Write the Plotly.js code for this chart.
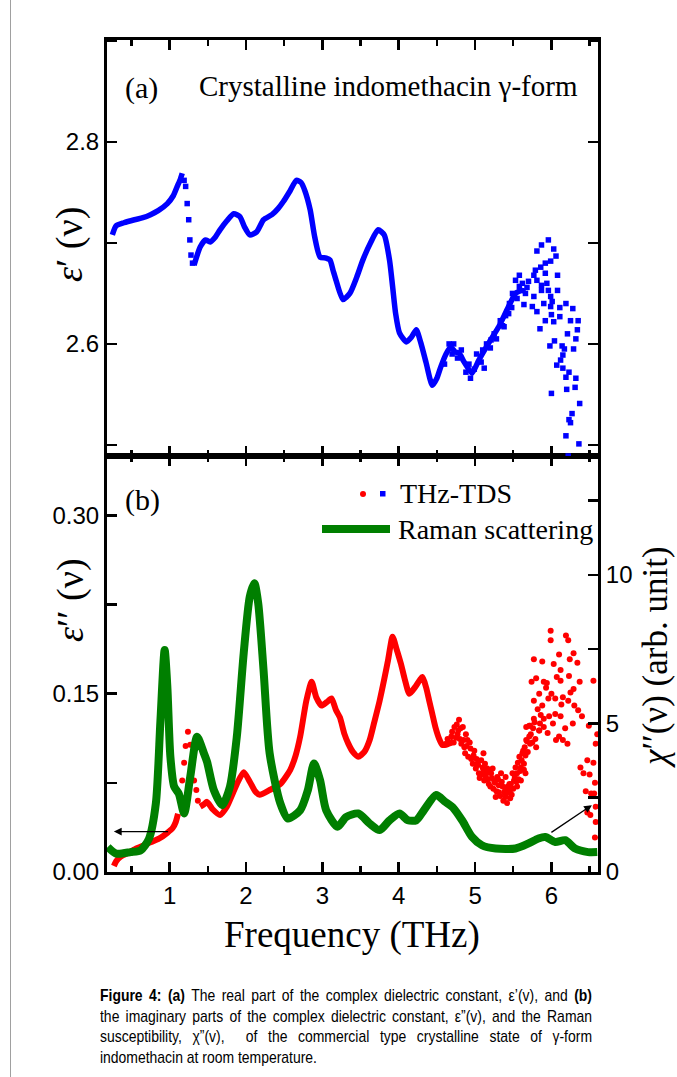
<!DOCTYPE html>
<html><head><meta charset="utf-8">
<script src="https://cdn.plot.ly/plotly-3.0.1.min.js"></script>
<style>
body{margin:0;background:#fff;width:677px;height:1077px;overflow:hidden;position:relative;font-family:"Liberation Sans",Arial,sans-serif;}
#chart{position:absolute;left:0;top:0;width:677px;height:1077px;}
#border{position:absolute;left:10px;top:0;width:1px;height:1077px;background:#a0a0a0;}
#caption{position:absolute;left:100px;top:986px;width:600px;font-size:17px;line-height:20.5px;color:#000;transform:scaleX(0.82);transform-origin:0 0;}
#caption div{text-align:justify;text-align-last:justify;white-space:nowrap;}
#caption div.last{text-align-last:left;}
</style></head>
<body>
<div id="border"></div>
<div id="chart"></div>
<div id="caption">
<div><b>Figure 4: (a)</b> The real part of the complex dielectric constant, ε’(v), and <b>(b)</b></div>
<div>the imaginary parts of the complex dielectric constant, ε”(v), and the Raman</div>
<div>susceptibility, χ”(v), &nbsp;of the commercial type crystalline state of γ-form</div>
<div class="last">indomethacin at room temperature.</div>
</div>
<script>
// ---------- (a) real part ε'(ν) ----------
const epsRealDenseX1 = [0.25,0.30,0.40,0.54,0.65,0.75,0.85,0.97,1.05,1.10,1.14,1.165];
const epsRealDenseY1 = [2.708,2.717,2.720,2.723,2.725,2.728,2.732,2.739,2.747,2.756,2.763,2.769];
const epsRealDotX = [1.19,1.21,1.23,1.25,1.265,1.28,1.30];
const epsRealDotY = [2.762,2.756,2.739,2.723,2.703,2.688,2.680];
const epsRealDenseX2 = [1.32,1.40,1.47,1.53,1.60,1.66,1.75,1.84,1.92,1.98,2.05,2.14,2.23,2.34,2.42,2.49,2.58,2.66,2.72,2.77,2.84,2.90,2.97,3.05,3.10,3.14,3.18,3.27,3.36,3.45,3.53,3.63,3.73,3.81,3.88,3.92,3.96,4.01,4.10,4.17,4.23,4.29,4.36,4.44,4.50,4.55,4.62,4.68,4.74,4.79,4.85,4.90,4.96,5.05,5.18,5.31,5.42,5.53,5.61,5.66];
const epsRealDenseY2 = [2.678,2.696,2.703,2.701,2.706,2.713,2.722,2.729,2.726,2.716,2.708,2.711,2.723,2.728,2.734,2.741,2.752,2.762,2.760,2.752,2.733,2.706,2.686,2.685,2.683,2.673,2.663,2.644,2.650,2.666,2.683,2.700,2.713,2.708,2.683,2.657,2.630,2.611,2.602,2.607,2.614,2.601,2.581,2.559,2.566,2.577,2.590,2.597,2.592,2.591,2.583,2.577,2.571,2.584,2.601,2.617,2.634,2.650,2.653,2.652];
const epsRealScatX = [5.96,5.87,5.81,6.03,6.06,5.99,5.92,5.86,5.79,5.58,5.53,5.77,5.92,6.08,5.81,5.87,5.94,5.58,5.87,5.96,6.08,5.49,5.66,5.77,5.64,5.75,5.81,5.90,5.99,6.01,5.99,6.11,6.19,6.28,6.00,6.11,5.92,6.03,6.25,6.35,5.85,6.34,6.21,6.32,6.04,5.98,6.14,6.29,6.17,6.15,6.12,6.07,6.15,6.23,6.19,6.32,6.31,6.20,6.00,6.37,6.27,6.23,6.25,6.19,6.36,6.22,5.21,5.12,5.44,5.38,
  4.60,4.66,4.70,4.72,4.77,4.82,4.88,4.92,4.94,4.99,5.02,5.08,5.10,5.15,5.20,5.25,5.28,5.33,5.36,5.40,5.45,5.48,5.55,5.62,5.68,5.70];
const epsRealScatY = [2.703,2.698,2.692,2.694,2.687,2.682,2.680,2.676,2.673,2.668,2.663,2.668,2.670,2.668,2.663,2.658,2.660,2.657,2.653,2.653,2.653,2.650,2.650,2.647,2.639,2.637,2.632,2.640,2.647,2.642,2.637,2.636,2.640,2.635,2.629,2.627,2.623,2.622,2.623,2.623,2.615,2.614,2.610,2.605,2.603,2.598,2.598,2.595,2.595,2.589,2.584,2.579,2.576,2.572,2.567,2.566,2.557,2.555,2.551,2.541,2.531,2.525,2.522,2.509,2.501,2.489,2.604,2.576,2.630,2.617,
  2.580,2.600,2.590,2.600,2.586,2.594,2.572,2.580,2.566,2.575,2.590,2.582,2.594,2.600,2.596,2.610,2.605,2.623,2.618,2.628,2.640,2.636,2.645,2.660,2.656,2.662];

// ---------- (b) imaginary part ε''(ν), THz-TDS ----------
const epsImagDenseX1 = [0.27,0.30,0.36,0.45,0.54,0.65,0.75,0.86,0.97,1.04,1.08,1.11];
const epsImagDenseY1 = [0.005,0.009,0.013,0.016,0.019,0.022,0.025,0.028,0.033,0.037,0.042,0.049];
const epsImagDotX = [1.14,1.165,1.19,1.21,1.24,1.27,1.30,1.32,1.35,1.37];
const epsImagDotY = [0.060,0.077,0.092,0.106,0.118,0.107,0.091,0.077,0.069,0.060];
const epsImagDenseX2 = [1.40,1.45,1.49,1.56,1.66,1.75,1.82,1.88,1.97,2.05,2.12,2.18,2.31,2.45,2.58,2.65,2.71,2.79,2.86,2.92,2.99,3.06,3.12,3.18,3.23,3.29,3.34,3.40,3.47,3.55,3.62,3.68,3.75,3.81,3.86,3.92,3.97,4.03,4.08,4.14,4.22,4.31,4.36,4.40,4.44,4.48,4.53,4.57,4.62,4.66,4.72];
const epsImagDenseY2 = [0.055,0.057,0.059,0.053,0.048,0.055,0.065,0.074,0.084,0.076,0.068,0.065,0.069,0.074,0.086,0.098,0.114,0.144,0.160,0.147,0.140,0.143,0.146,0.136,0.130,0.116,0.108,0.101,0.097,0.101,0.111,0.126,0.144,0.162,0.178,0.198,0.188,0.175,0.162,0.150,0.156,0.164,0.155,0.144,0.133,0.122,0.112,0.107,0.107,0.108,0.110];
const epsImagScatX = [4.79,4.73,4.84,4.77,4.88,4.69,4.62,4.90,4.94,4.86,4.98,5.11,5.03,5.10,5.16,5.05,5.21,5.14,5.25,5.29,5.18,5.31,5.27,5.36,5.40,5.38,5.46,5.45,5.51,5.55,5.49,5.60,5.53,5.64,5.58,5.62,5.66,5.60,5.65,5.72,5.80,5.67,5.73,5.67,5.71,5.77,5.90,5.86,5.84,5.90,4.64,5.11,5.23,5.31,5.34,5.40,5.46,5.43,5.55,
  5.99,5.99,6.19,6.22,5.77,5.88,6.10,6.24,6.29,6.34,5.74,5.80,5.90,5.94,6.07,6.12,6.29,6.37,6.55,5.84,5.77,5.96,6.05,6.15,6.22,6.30,5.72,5.84,5.97,6.05,6.12,6.35,6.40,6.49,6.06,6.10,6.15,6.21,6.60,6.58,6.47,6.55,6.38,6.42,6.50,6.57,6.45,6.56,6.52,6.47,6.58,6.58,6.57,6.51,5.93,6.00,5.88,6.13,6.25,6.28,6.18,5.95,6.02,6.03,6.23,6.12,
  4.70,4.72,4.75,4.76,4.78,4.80,4.81,4.82,4.85,4.87,4.89,4.91,4.93,4.95,4.97,4.99,5.01,5.02,5.04,5.06,5.08,5.09,5.12,5.13,5.15,5.17,5.19,5.20,5.22,5.24,5.26,5.28,5.30,5.33,5.35,5.37,5.39,5.41,5.42,5.44,5.47,5.48,5.50,5.52,5.54,5.56,5.57,5.59,5.61,5.63,5.64,5.66,5.68,5.69,5.71,5.75,5.76,5.78,5.79,5.82,5.85];
const epsImagScatY = [0.128,0.122,0.122,0.116,0.116,0.114,0.108,0.111,0.104,0.105,0.098,0.100,0.091,0.088,0.087,0.083,0.083,0.080,0.077,0.080,0.074,0.073,0.063,0.072,0.063,0.067,0.069,0.074,0.077,0.083,0.083,0.088,0.088,0.091,0.097,0.100,0.083,0.077,0.105,0.108,0.105,0.111,0.116,0.122,0.123,0.129,0.129,0.132,0.119,0.122,0.112,0.086,0.087,0.067,0.083,0.080,0.062,0.072,0.072,
  0.203,0.195,0.199,0.195,0.179,0.177,0.183,0.179,0.184,0.176,0.160,0.163,0.160,0.159,0.164,0.161,0.154,0.160,0.161,0.150,0.144,0.146,0.146,0.147,0.144,0.140,0.123,0.119,0.131,0.133,0.131,0.136,0.131,0.123,0.111,0.114,0.111,0.108,0.116,0.108,0.094,0.092,0.088,0.083,0.082,0.075,0.068,0.066,0.066,0.050,0.055,0.042,0.029,0.048,0.155,0.150,0.140,0.141,0.151,0.125,0.121,0.117,0.125,0.175,0.165,0.170,
  0.118,0.109,0.113,0.124,0.119,0.112,0.121,0.108,0.111,0.100,0.106,0.097,0.109,0.095,0.091,0.102,0.087,0.095,0.090,0.079,0.094,0.082,0.077,0.091,0.083,0.078,0.085,0.072,0.079,0.070,0.075,0.068,0.078,0.064,0.076,0.060,0.071,0.066,0.058,0.068,0.074,0.065,0.070,0.080,0.076,0.092,0.078,0.085,0.094,0.102,0.086,0.098,0.110,0.101,0.114,0.109,0.121,0.126,0.112,0.137,0.125];

// ---------- (b) Raman susceptibility χ''(ν) ----------
const ramanX = [0.19,0.30,0.49,0.62,0.73,0.82,0.88,0.935,0.97,1.01,1.06,1.12,1.19,1.27,1.36,1.45,1.49,1.58,1.69,1.79,1.88,1.97,2.05,2.11,2.16,2.23,2.31,2.45,2.55,2.71,2.81,2.89,2.97,3.05,3.20,3.31,3.47,3.62,3.75,3.88,4.01,4.12,4.23,4.33,4.49,4.61,4.72,4.83,4.96,5.09,5.27,5.53,5.70,5.83,5.92,6.05,6.18,6.31,6.48,6.60];
const ramanY = [0.84,0.62,0.67,0.73,1.12,2.31,5.11,7.47,6.24,3.88,2.87,2.64,1.97,3.20,4.55,3.99,3.71,2.75,2.25,2.87,4.55,7.36,9.27,9.72,9.05,6.80,3.99,2.31,1.80,2.08,2.75,3.65,3.09,2.08,1.52,1.85,1.97,1.63,1.41,1.74,1.97,1.74,1.74,2.08,2.59,2.36,2.14,1.74,1.18,0.90,0.79,0.79,0.96,1.13,1.18,1.01,1.07,0.79,0.67,0.67];

// arrows: [tailX, tailY, headX, headY]
const arrowLeft = [1.0, 0.034, 0.27, 0.034];
const arrowRight = [5.98, 1.30, 6.53, 2.25];

const BLUE='#0000ff', RED='#ff0000', GREEN='#007f00';
const traces = [
  {x:epsRealDenseX1,y:epsRealDenseY1,xaxis:'x2',yaxis:'y',mode:'lines',line:{color:BLUE,width:5.5,shape:'spline',smoothing:0.6}},
  {x:epsRealDotX,y:epsRealDotY,xaxis:'x2',yaxis:'y',mode:'markers',marker:{symbol:'square',size:5.5,color:BLUE}},
  {x:epsRealDenseX2,y:epsRealDenseY2,xaxis:'x2',yaxis:'y',mode:'lines',line:{color:BLUE,width:5.5,shape:'spline',smoothing:0.6}},
  {x:epsRealScatX,y:epsRealScatY,xaxis:'x2',yaxis:'y',mode:'markers',marker:{symbol:'square',size:5.5,color:BLUE}},
  {x:epsImagDenseX1,y:epsImagDenseY1,xaxis:'x',yaxis:'y2',mode:'lines',line:{color:RED,width:6,shape:'spline',smoothing:0.6}},
  {x:epsImagDotX,y:epsImagDotY,xaxis:'x',yaxis:'y2',mode:'markers',marker:{symbol:'circle',size:6,color:RED}},
  {x:epsImagDenseX2,y:epsImagDenseY2,xaxis:'x',yaxis:'y2',mode:'lines',line:{color:RED,width:6,shape:'spline',smoothing:0.6}},
  {x:epsImagScatX,y:epsImagScatY,xaxis:'x',yaxis:'y2',mode:'markers',marker:{symbol:'circle',size:6,color:RED}},
  {x:ramanX,y:ramanY,xaxis:'x',yaxis:'y3',mode:'lines',line:{color:GREEN,width:8,shape:'spline',smoothing:0.7}}
];

// layout helpers (pixel -> paper)
const L=107, R=598, T=40, B=872;
const px=v=>(v-L)/(R-L), py=v=>(B-v)/(B-T);
const SERIF='Liberation Serif, Times New Roman, serif';
const SANS='Liberation Sans, Arial, sans-serif';
const axBase = {showline:true,linewidth:3,linecolor:'#000',ticks:'inside',ticklen:10,tickwidth:2.5,tickcolor:'#000',showgrid:false,zeroline:false,tickfont:{family:SANS,size:24,color:'#000'}};
const minorX = {dtick:0.5,tick0:0,ticks:'inside',ticklen:6,tickwidth:2.5,tickcolor:'#000',showgrid:false};

const ann = (text,x,y,size,opts)=>Object.assign({text:text,x:px(x),y:py(y),xref:'paper',yref:'paper',showarrow:false,font:{family:SERIF,size:size,color:'#000'},xanchor:'center',yanchor:'middle'},opts||{});

const layout = {
  width:677,height:1077,
  margin:{l:L,r:677-R,t:T,b:1077-B,pad:0},
  paper_bgcolor:'rgba(0,0,0,0)',plot_bgcolor:'rgba(0,0,0,0)',
  showlegend:false,
  xaxis:Object.assign({},axBase,{domain:[0,1],anchor:'y2',range:[0.18,6.61],tick0:0,dtick:1,mirror:'ticks',minor:minorX}),
  xaxis2:Object.assign({},axBase,{domain:[0,1],anchor:'y',matches:'x',range:[0.18,6.61],tick0:0,dtick:1,mirror:'ticks',showticklabels:false,minor:minorX}),
  yaxis:Object.assign({},axBase,{domain:[0.5,1],anchor:'x2',range:[2.489,2.901],tick0:2.6,dtick:0.2,tickformat:'.1f',mirror:'ticks',minor:{dtick:0.1,tick0:2.5,ticks:'inside',ticklen:10,tickwidth:2.5,tickcolor:'#000',showgrid:false}}),
  yaxis2:Object.assign({},axBase,{domain:[0,0.5],anchor:'x',range:[0,0.35],tick0:0,dtick:0.15,tickformat:'.2f',minor:{dtick:0.075,tick0:0,ticks:'inside',ticklen:10,tickwidth:2.5,tickcolor:'#000',showgrid:false}}),
  yaxis3:Object.assign({},axBase,{domain:[0,0.5],anchor:'x',overlaying:'y2',side:'right',range:[0,14],tick0:0,dtick:5,minor:{dtick:2.5,tick0:0,ticks:'inside',ticklen:10,tickwidth:2.5,tickcolor:'#000',showgrid:false}}),
  annotations:[
    ann('(a)',141,88,30),
    ann('Crystalline indomethacin γ-form',197,86,29,{xanchor:'left'}),
    ann('(b)',142,500,30),
    ann('THz-TDS',398,494,28,{xanchor:'left'}),
    ann('Raman scattering',396,529,28,{xanchor:'left'}),
    ann('<i>ε</i>′ (ν)',70,245,38,{textangle:-90}),
    ann('<i>ε</i>′′ (ν)',70,600,38,{textangle:-90}),
    ann('<i>χ</i>′′(ν) (arb. unit)',655,657,35,{textangle:-90}),
    ann('Frequency (THz)',352,935,37),
    {x:arrowLeft[2],y:arrowLeft[3],ax:arrowLeft[0],ay:arrowLeft[1],xref:'x',yref:'y2',axref:'x',ayref:'y2',text:'',showarrow:true,arrowhead:2,arrowsize:1.2,arrowwidth:1.3,arrowcolor:'#000'},
    {x:arrowRight[2],y:arrowRight[3],ax:arrowRight[0],ay:arrowRight[1],xref:'x',yref:'y3',axref:'x',ayref:'y3',text:'',showarrow:true,arrowhead:2,arrowsize:1.2,arrowwidth:1.3,arrowcolor:'#000'}
  ],
  shapes:[
    {type:'circle',xref:'paper',yref:'paper',x0:px(360),x1:px(366),y0:py(497),y1:py(491),fillcolor:RED,line:{width:0}},
    {type:'rect',xref:'paper',yref:'paper',x0:px(380),x1:px(385.5),y0:py(496.5),y1:py(491),fillcolor:BLUE,line:{width:0}},
    {type:'line',xref:'paper',yref:'paper',x0:px(322),x1:px(390),y0:py(529),y1:py(529),line:{color:GREEN,width:8}}
  ]
};
Plotly.newPlot('chart',traces,layout,{displayModeBar:false,staticPlot:true});
</script>
</body></html>
